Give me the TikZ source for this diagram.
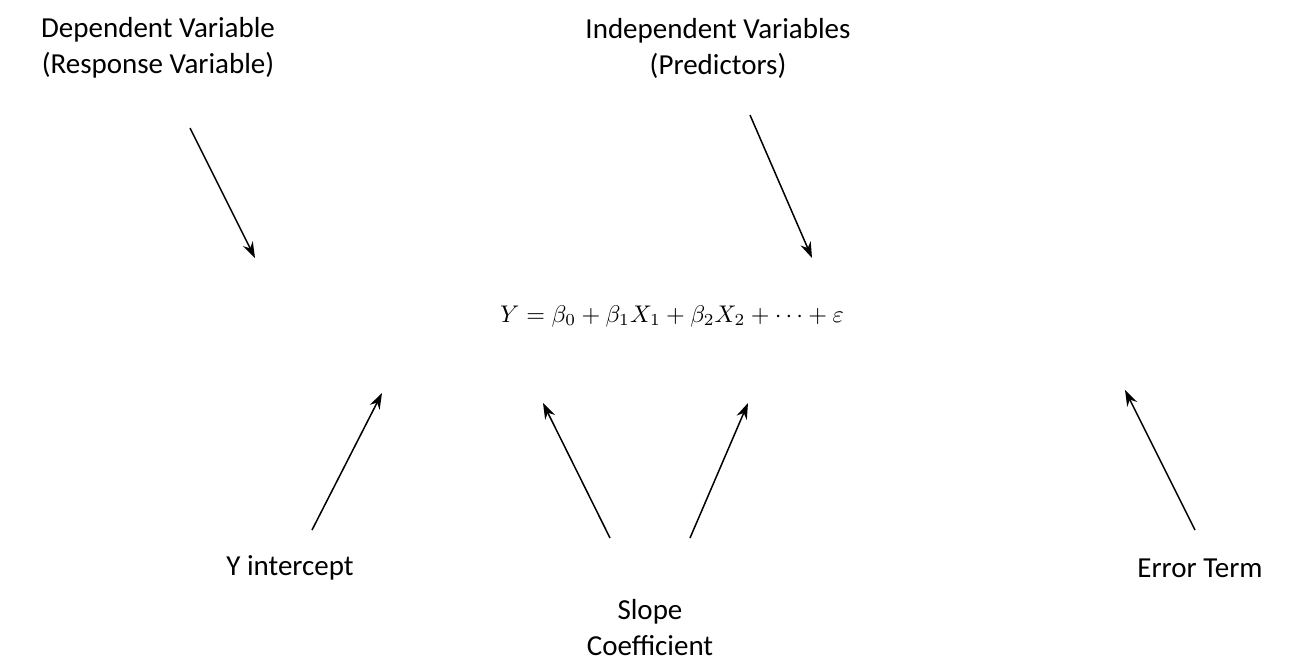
\documentclass[tikz,border=0pt]{standalone}
\usepackage{fontspec}
\setmainfont{Carlito}
\usepackage{tikz}
\usetikzlibrary{positioning, arrows.meta}
\tikzset{
  lbl/.style={align=center, font=\fontsize{29}{36}\selectfont, inner sep=0pt},
  arrow/.style={line width=1.5pt, -{Stealth[length=16pt, width=11pt]}}
}
\begin{document}
\begin{tikzpicture}[x=1pt, y=-1pt]
\useasboundingbox (0,0) rectangle (1306,664);

% Equation
\node[inner sep=0pt, anchor=base, scale=2.41, transform shape] (eq) at (672,322) {$Y=\beta_0+\beta_1X_1+\beta_2X_2+\cdots+\varepsilon$};

% Labels
\node[lbl] (dep) at (158,48) {Dependent Variable\\(Response Variable)};
\node[lbl] (ind) at (718,48) {Independent Variables\\(Predictors)};
\node[lbl] (yint) at (290,568) {Y intercept};
\node[lbl] (slope) at (650,628) {Slope\\Coefficient};
\node[lbl] (err) at (1200,568) {Error Term};

% Arrow ends
\coordinate (a1s) at (190,128); \coordinate (a1e) at (255,258);
\coordinate (a2s) at (750,115); \coordinate (a2e) at (812,258);
\coordinate (a3s) at (312,530); \coordinate (a3e) at (382,393);
\coordinate (a4s) at (610,538); \coordinate (a4e) at (543,403);
\coordinate (a5s) at (690,538); \coordinate (a5e) at (748,403);
\coordinate (a6s) at (1195,530); \coordinate (a6e) at (1125,390);

% Arrows
\draw[arrow] (a1s) -- (a1e);
\draw[arrow] (a2s) -- (a2e);
\draw[arrow] (a3s) -- (a3e);
\draw[arrow] (a4s) -- (a4e);
\draw[arrow] (a5s) -- (a5e);
\draw[arrow] (a6s) -- (a6e);

\end{tikzpicture}
\end{document}
